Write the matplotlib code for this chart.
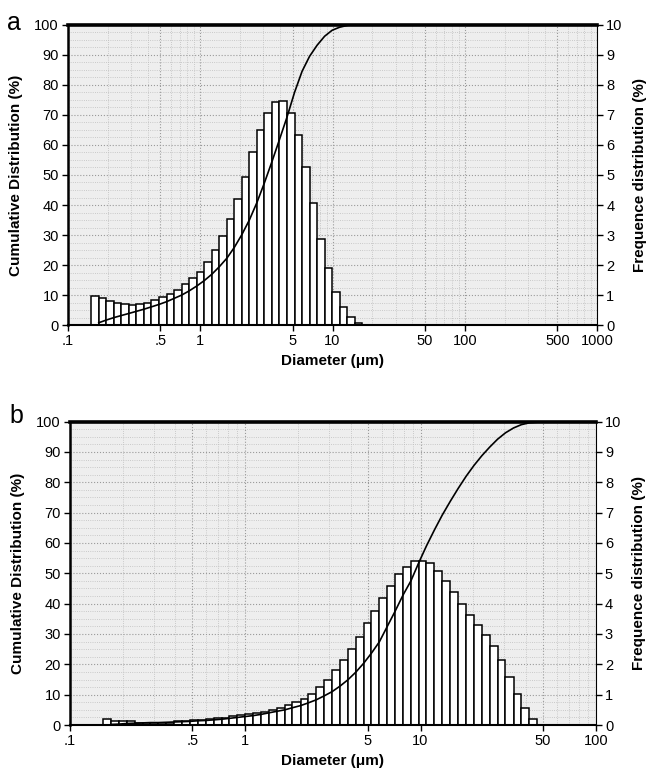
import numpy as np
import matplotlib
matplotlib.use("Agg")
from matplotlib import pyplot as plt
from matplotlib.ticker import FixedLocator, MultipleLocator, LogLocator

plt.rcParams["font.family"] = ["Liberation Sans", "DejaVu Sans"]

# ---- panel a : bin edges (um), frequency (%), cumulative (%) at upper edges
a_edges = [0.150, 0.171, 0.195, 0.222, 0.253, 0.289, 0.329, 0.375, 0.428, 0.488,
           0.556, 0.634, 0.723, 0.824, 0.939, 1.07, 1.22, 1.39, 1.59, 1.81,
           2.06, 2.35, 2.68, 3.05, 3.48, 3.97, 4.52, 5.16, 5.88, 6.70,
           7.64, 8.71, 9.93, 11.3, 12.9, 14.7, 16.8]
a_freq = [0.98, 0.89, 0.80, 0.74, 0.69, 0.68, 0.70, 0.75, 0.83, 0.94,
          1.03, 1.17, 1.37, 1.58, 1.78, 2.11, 2.50, 2.97, 3.52, 4.20,
          4.94, 5.75, 6.50, 7.08, 7.42, 7.47, 7.08, 6.33, 5.28, 4.08,
          2.87, 1.89, 1.10, 0.60, 0.28, 0.08]
a_cum = [0.8, 1.7, 2.5, 3.2, 3.9, 4.6, 5.3, 6.1, 6.9, 7.8,
         8.9, 10.0, 11.4, 13.0, 14.8, 16.9, 19.4, 22.3, 25.9, 30.1,
         35.0, 40.8, 47.3, 54.4, 61.8, 69.2, 77.5, 84.5, 89.5, 93.2,
         96.2, 98.2, 99.2, 99.8]
a_ticks = [0.1, 0.5, 1, 5, 10, 50, 100, 500, 1000]
a_ticklabels = [".1", ".5", "1", "5", "10", "50", "100", "500", "1000"]

# ---- panel b
b_edges = [0.155, 0.172, 0.191, 0.211, 0.234, 0.260, 0.288, 0.320, 0.355, 0.394,
           0.437, 0.484, 0.537, 0.596, 0.661, 0.733, 0.813, 0.902, 1.00, 1.11,
           1.23, 1.36, 1.51, 1.68, 1.86, 2.07, 2.29, 2.54, 2.82, 3.13,
           3.47, 3.85, 4.27, 4.73, 5.25, 5.82, 6.46, 7.16, 7.94, 8.81,
           9.77, 10.8, 12.0, 13.3, 14.8, 16.4, 18.2, 20.2, 22.4, 24.8,
           27.5, 30.5, 33.9, 37.6, 41.7, 46.2]
b_freq = [0.19, 0.14, 0.13, 0.12, 0.08, 0.07, 0.07, 0.07, 0.08, 0.12,
          0.14, 0.15, 0.16, 0.19, 0.22, 0.24, 0.29, 0.32, 0.36, 0.40,
          0.44, 0.49, 0.56, 0.65, 0.75, 0.87, 1.03, 1.24, 1.47, 1.80,
          2.13, 2.50, 2.91, 3.35, 3.76, 4.18, 4.59, 4.97, 5.22, 5.41,
          5.41, 5.33, 5.09, 4.75, 4.37, 3.99, 3.63, 3.30, 2.97, 2.60,
          2.13, 1.57, 1.01, 0.55, 0.20]
b_cum = [0.2, 0.3, 0.5, 0.6, 0.7, 0.8, 0.8, 0.9, 1.0, 1.1,
         1.2, 1.4, 1.5, 1.7, 1.9, 2.2, 2.5, 2.8, 3.1, 3.5,
         4.0, 4.5, 5.0, 5.7, 6.4, 7.3, 8.3, 9.6, 11.0, 12.8,
         14.9, 17.4, 20.3, 23.7, 27.4, 32.5, 37.5, 42.8, 47.5, 53.5,
         59.0, 64.3, 69.2, 73.8, 78.0, 82.0, 85.6, 88.8, 91.6, 94.2,
         96.3, 97.9, 99.0, 99.6, 99.8]
b_ticks = [0.1, 0.5, 1, 5, 10, 50, 100]
b_ticklabels = [".1", ".5", "1", "5", "10", "50", "100"]

tick_font = ["Liberation Sans Narrow", "Liberation Sans", "DejaVu Sans"]


def panel(fig, rect, edges, freq, cum, xmax, ticks, ticklabels, letter, letter_xy):
    ax_f = fig.add_axes(rect)
    ax_c = ax_f.twinx()
    ax_f.set_xscale("log")
    ax_f.set_xlim(0.1, xmax)
    ax_f.set_ylim(0, 10)
    ax_c.set_ylim(0, 100)
    ax_f.set_facecolor("#eeeeee")

    # grid
    ax_f.xaxis.set_major_locator(FixedLocator(ticks))
    ax_f.xaxis.set_minor_locator(LogLocator(base=10, subs=np.arange(1, 10)))
    ax_f.yaxis.set_major_locator(MultipleLocator(1))
    ax_f.yaxis.set_minor_locator(MultipleLocator(0.25))
    ax_f.grid(which="major", color="#9a9a9a", ls=":", lw=0.8)
    ax_f.grid(which="minor", color="#bdbdbd", ls=":", lw=0.6)
    ax_f.set_axisbelow(True)

    edges = np.array(edges)
    ax_f.bar(edges[:-1], freq, width=np.diff(edges), align="edge",
             color="white", edgecolor="black", lw=1.1, zorder=2)
    ax_c.plot(edges[1:len(cum) + 1], cum, color="black", lw=1.2)

    ax_f.set_xticklabels(ticklabels)
    ax_c.yaxis.set_major_locator(MultipleLocator(10))
    ax_f.yaxis.tick_right()
    ax_f.yaxis.set_label_position("right")
    ax_c.yaxis.tick_left()
    ax_c.yaxis.set_label_position("left")

    for ax in (ax_f, ax_c):
        ax.tick_params(which="major", length=4, width=1, direction="out",
                       labelsize=10.5, labelfontfamily=tick_font, pad=2.5)
        ax.tick_params(which="minor", length=0)
    for s in ax_f.spines.values():
        s.set_visible(False)
    ax_c.spines["top"].set_linewidth(2.6)
    ax_c.spines["left"].set_linewidth(1.8)
    ax_c.spines["bottom"].set_linewidth(1.5)
    ax_c.spines["right"].set_linewidth(0.8)

    ax_c.set_ylabel("Cumulative Distribution (%)", fontsize=11, fontweight="bold")
    ax_f.set_ylabel("Frequence distribution (%)", fontsize=11, fontweight="bold")
    ax_f.set_xlabel("Diameter (\u03bcm)", fontsize=11, fontweight="bold")
    ax_c.yaxis.set_label_coords(-0.085, 0.5)
    ax_f.yaxis.set_label_coords(1.068, 0.5)
    ax_f.xaxis.set_label_coords(0.5, -0.095)

    fig.text(letter_xy[0], letter_xy[1], letter, fontsize=18, ha="center", va="center")
    return ax_f, ax_c


fig = plt.figure(figsize=(6.47, 7.76), dpi=100)
panel(fig, [0.105, 0.581, 0.818, 0.387], a_edges, a_freq, a_cum, 1000,
      a_ticks, a_ticklabels, "a", (0.022, 0.970))
panel(fig, [0.108, 0.0657, 0.813, 0.391], b_edges, b_freq, b_cum, 100,
      b_ticks, b_ticklabels, "b", (0.025, 0.464))

fig.savefig("out.png", dpi=100)
